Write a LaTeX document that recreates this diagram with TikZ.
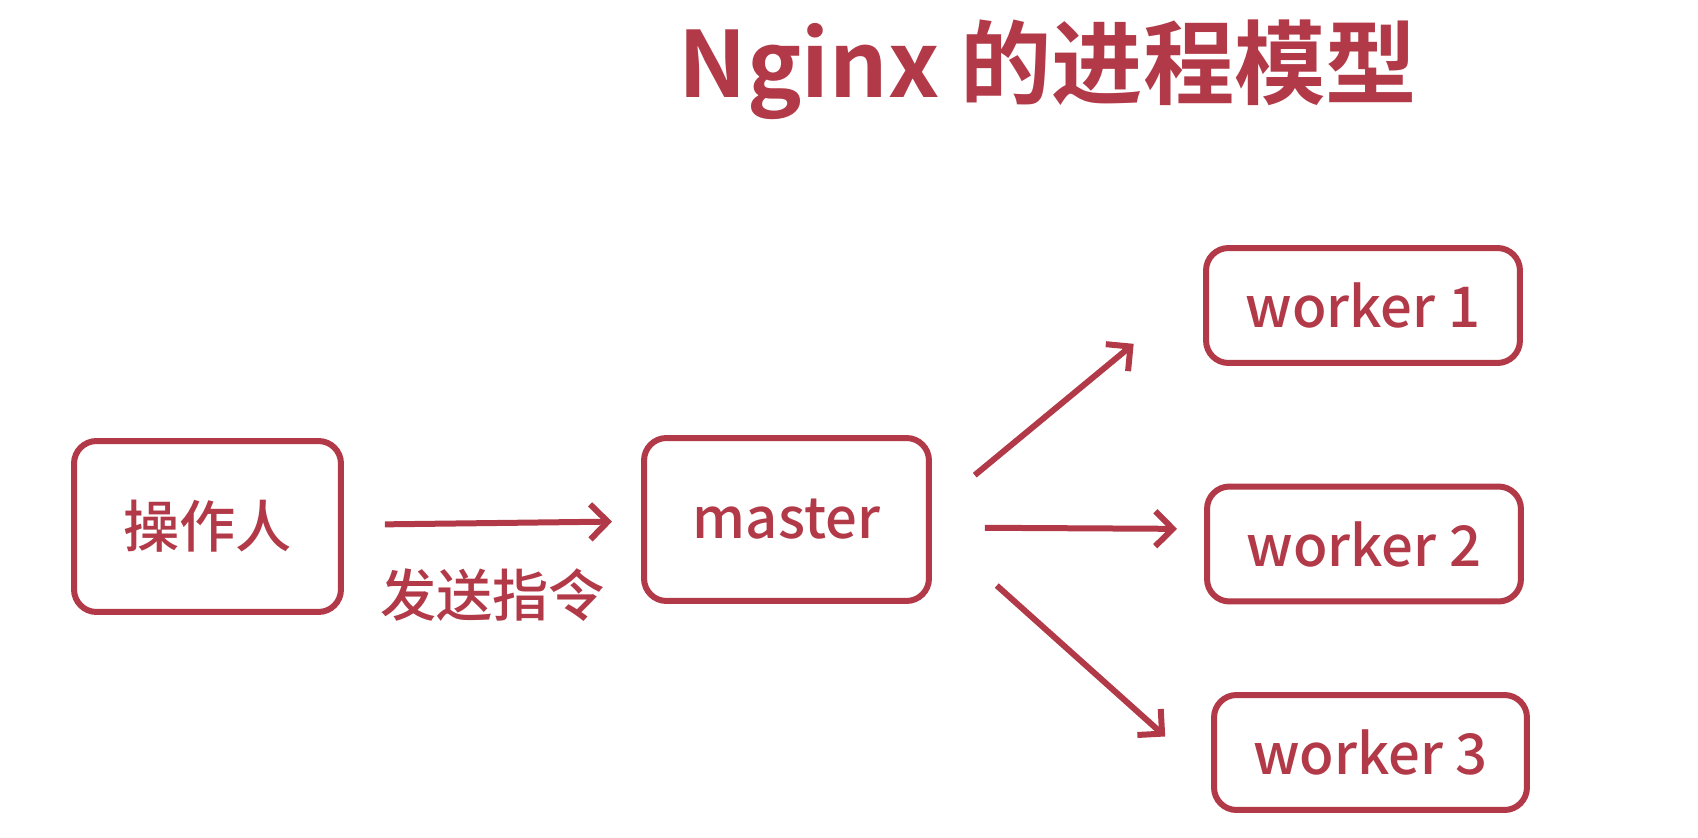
\documentclass[tikz,border=0pt]{standalone}
\usepackage{fontspec}
\setmainfont{Noto Sans CJK SC}[UprightFont=* Medium,BoldFont=* Bold]
\usetikzlibrary{arrows.meta,calc}
\definecolor{nginxred}{HTML}{B23A48}

\begin{document}
\begin{tikzpicture}[x=0.02cm,y=-0.02cm,
		proc/.style={rectangle,rounded corners=0.45cm,draw=nginxred,line width=0.12cm,text=nginxred,inner sep=0pt,font=\fontsize{32}{38}\selectfont},
		arr/.style={draw=nginxred,line width=0.12cm,-{Straight Barb[length=0.35cm,width=0.7cm]}}]
		\useasboundingbox (0,0) rectangle (1698,838);
		\node[text=nginxred,font=\bfseries\fontsize{52}{62}\selectfont] (title) at (1048,70) {Nginx 的进程模型};
		\node[proc,minimum width=5.34cm,minimum height=3.42cm] (op) at (207.5,526.5) {操作人};
		\node[proc,minimum width=5.7cm,minimum height=3.26cm] (master) at (786.5,519.5) {master};
		\node[proc,minimum width=6.28cm,minimum height=2.3cm] (w1) at (1363,305.5) {worker 1};
		\node[proc,minimum width=6.28cm,minimum height=2.3cm] (w2) at (1364,544) {worker 2};
		\node[proc,minimum width=6.26cm,minimum height=2.3cm] (w3) at (1370.5,752.5) {worker 3};
		\draw[arr,shorten <=0.82cm,shorten >=0.58cm] (op) -- (master)
			node[midway,below=0.85cm,text=nginxred,font=\fontsize{32}{38}\selectfont,inner sep=0pt] (send) {发送指令};
		\draw[arr,shorten <=1.11cm,shorten >=1.8cm] ($(master.east)+(0,-9)$) -- ($(w1.west)+(0,-19)$);
		\draw[arr,shorten <=1.06cm,shorten >=0.54cm] ($(master.east)+(0,8)$) -- ($(w2.west)+(0,-15)$);
		\draw[arr,shorten <=1.74cm,shorten >=1.23cm] ($(master.east)+(0,8)$) -- ($(w3.west)+(0,25)$);
	\end{tikzpicture}
\end{document}
